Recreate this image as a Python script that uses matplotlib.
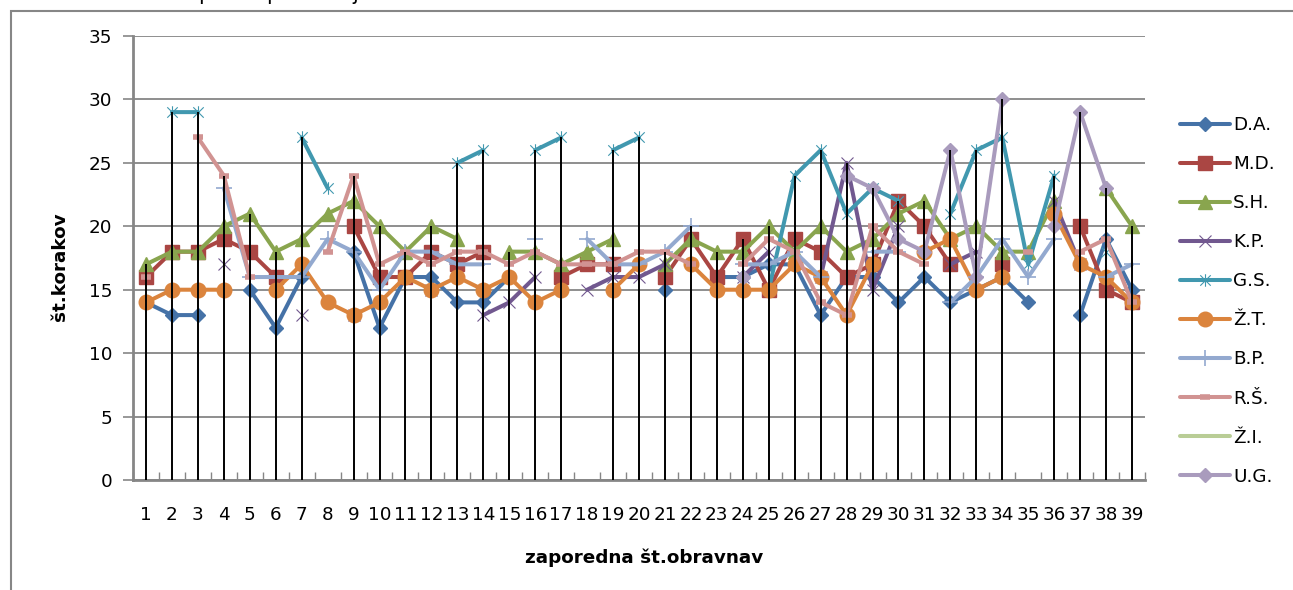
import numpy as np
import matplotlib
matplotlib.use("Agg")
import matplotlib.pyplot as plt
from matplotlib.path import Path
from matplotlib.patches import Rectangle

nan = np.nan

# ---------------- data ----------------
categories = list(range(1, 40))
series_names = ["D.A.", "M.D.", "S.H.", "K.P.", "G.S.", "Ž.T.", "B.P.", "R.Š.", "Ž.I.", "U.G."]

da = [14, 13, 13, nan, 15, 12, 16, nan, 18, 12, 16, 16, 14, 14, 16, nan, nan, nan, nan, nan,
      15, nan, 16, 16, 17, 17, 13, 16, 16, 14, 16, 14, 15, 16, 14, nan, 13, 19, 15]
md = [16, 18, 18, 19, 18, 16, nan, nan, 20, 16, 16, 18, 17, 18, nan, nan, 16, 17, 17, nan,
      16, 19, 16, 19, 15, 19, 18, 16, 17, 22, 20, 17, nan, 17, nan, nan, 20, 15, 14]
sh = [17, 18, 18, 20, 21, 18, 19, 21, 22, 20, 18, 20, 19, nan, 18, 18, 17, 18, 19, nan,
      17, 19, 18, 18, 20, 18, 20, 18, 19, 21, 22, 19, 20, 18, 18, 22, nan, 23, 20]
kp = [nan, nan, nan, 17, nan, nan, 13, nan, 13, nan, nan, 15, nan, 13, 14, 16, nan, 15, 16, 16,
      17, nan, nan, 16, 18, nan, 16, 25, 15, 20, nan, 17, 18, nan, nan, 22, 17, nan, nan]
gs = [nan, 29, 29, nan, nan, nan, 27, 23, nan, nan, nan, nan, 25, 26, nan, 26, 27, nan, 26, 27,
      nan, nan, nan, nan, 15, 24, 26, 21, 23, 22, nan, 21, 26, 27, 17, 24, nan, 18, nan]
zt = [14, 15, 15, 15, nan, 15, 17, 14, 13, 14, 16, 15, 16, 15, 16, 14, 15, nan, 15, 17,
      nan, 17, 15, 15, 15, 17, 16, 13, 17, nan, 18, 19, 15, 16, nan, 21, 17, 16, 14]
bp = [nan, nan, nan, 23, 16, 16, 16, 19, 18, 15, 18, 18, 17, 17, nan, 19, nan, 19, 17, 17,
      18, 20, nan, 17, 17, 18, 16, nan, 18, 18, nan, 14, 16, 19, 16, 19, nan, 16, 17]
rs = [16, nan, 27, 24, 16, nan, nan, 18, 24, 17, 18, 17, 18, 18, 17, 18, 17, 17, 17, 18,
      18, 17, nan, 17, 19, 18, 14, 13, 20, 18, 17, nan, nan, nan, 18, nan, 18, 19, 14]
zi = [nan] * 39
ug = [nan] * 23 + [16, nan, nan, nan, 24, 23, 19, 18, 26, 16, 30, nan, 20, 29, 23, nan]

series_values = [da, md, sh, kp, gs, zt, bp, rs, zi, ug]
no_drop_line = [8, 18, 35]   # categories without a drop line

y_ticks = [0, 5, 10, 15, 20, 25, 30, 35]
x_label = "zaporedna št.obravnav"
y_label = "št.korakov"

# ---------------- style ----------------
asterisk = Path([(-1, -1), (1, 1), (-1, 1), (1, -1), (0, -1.2), (0, 1.2)],
                [Path.MOVETO, Path.LINETO, Path.MOVETO, Path.LINETO, Path.MOVETO, Path.LINETO])

colors = ["#4572A7", "#AA4643", "#89A54E", "#71588F", "#4198AF",
          "#DB843D", "#93A9CF", "#D19392", "#B9CD96", "#A99BBD"]
marker_styles = [
    dict(marker="D", ms=7.5),
    dict(marker="s", ms=10),
    dict(marker="^", ms=10.5),
    dict(marker="x", ms=9, mew=0.8),
    dict(marker=asterisk, ms=9, mew=0.8),
    dict(marker="o", ms=10.5),
    dict(marker="+", ms=11, mew=1.2),
    dict(marker="_", ms=7, mew=4),
    dict(marker="None"),
    dict(marker="D", ms=7.5),
]

plt.rcParams["font.family"] = ["DejaVu Sans"]
FS = 13.2
GRAY = "#868686"

W, H = 1293, 590
fig = plt.figure(figsize=(W / 100, H / 100), dpi=100)
ax = fig.add_axes([133 / W, 1 - 480 / H, (1145 - 133) / W, (480 - 36) / H])

x = np.array(categories)
for name, vals, col, ms in zip(series_names, series_values, colors, marker_styles):
    ax.plot(x, np.array(vals, dtype=float), color=col, lw=2.9, label=name,
            solid_joinstyle="round", solid_capstyle="round",
            mfc=col, mec=col, **ms)

# drop lines from highest point of each category
arr = np.array(series_values, dtype=float)
tops = np.nanmax(arr, axis=0)
mask = np.array([c not in no_drop_line for c in categories])
ax.vlines(x[mask], 0, tops[mask], colors="black", lw=1.4, zorder=6)

ax.set_xlim(0.5, 39.5)
ax.set_ylim(0, 35)
ax.set_yticks(y_ticks)
ax.set_xticks(categories)
ax.set_xticklabels([str(c) for c in categories])
ax.set_xticks(np.arange(0.5, 40, 1), minor=True)
ax.tick_params(axis="x", which="major", length=0, pad=19, labelsize=FS)
ax.tick_params(axis="x", which="minor", direction="in", length=6, width=1, color=GRAY)
ax.tick_params(axis="y", direction="out", length=7, width=1.2, color=GRAY, pad=8, labelsize=FS)
ax.grid(axis="y", color=GRAY, lw=1.3)
ax.set_axisbelow(True)
for s in ["top", "right"]:
    ax.spines[s].set_visible(False)
for s in ["left", "bottom"]:
    ax.spines[s].set_color(GRAY)
    ax.spines[s].set_linewidth(2)

ax.set_xlabel(x_label, fontsize=FS, fontweight="bold")
ax.xaxis.label.set_va("center")
ax.xaxis.set_label_coords(0.505, -0.176)
ax.set_ylabel(y_label, fontsize=FS, fontweight="bold")
ax.yaxis.label.set_va("center")
ax.yaxis.label.set_rotation_mode("anchor")
ax.yaxis.set_label_coords(-0.072, 0.48)

fig.legend(loc="upper left", bbox_to_anchor=(1180 / W, 1 - 116 / H), frameon=False,
           fontsize=FS, borderpad=0, borderaxespad=0, handlelength=2.7,
           handletextpad=0.2, labelspacing=1.15)

# outer chart-area frame (partly cut by the image border)
fig.patches.append(Rectangle((11 / W, -0.1), 2, 1.1 - 11 / H, transform=fig.transFigure,
                             fill=False, edgecolor=GRAY, lw=1.5))
# remains of a cut-off title
for xp, ch in [(205, "p"), (273, "p"), (355, "j")]:
    fig.text(xp / W, 1.0, ch, fontsize=FS + 2, ha="center", va="baseline")

fig.savefig("out.png", dpi=100)
